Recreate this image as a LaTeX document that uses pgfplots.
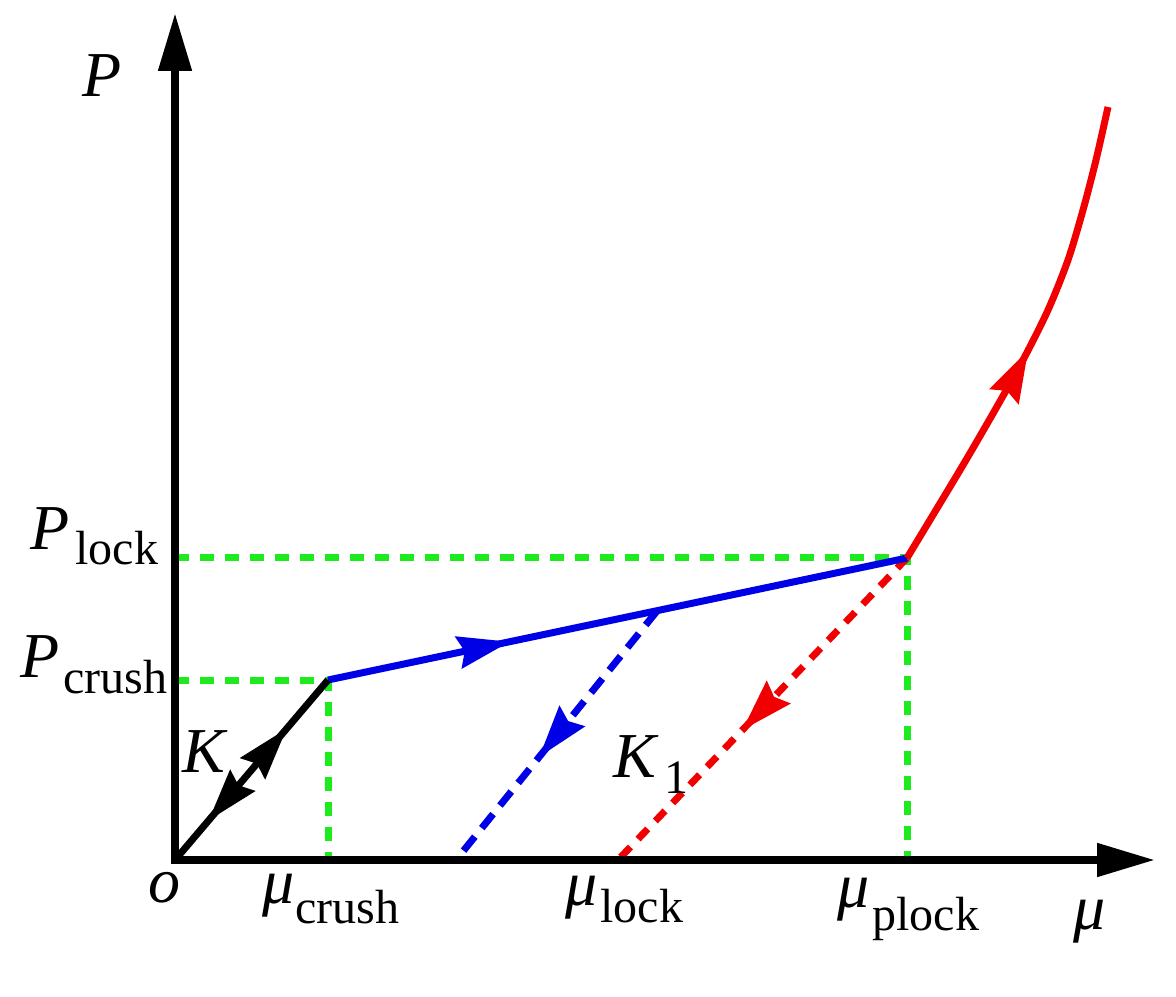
\documentclass[border=0pt]{standalone}
\usepackage{fontspec}
\setmainfont{Liberation Serif}
\usepackage{pgfplots}
\pgfplotsset{compat=1.18}
\usetikzlibrary{arrows.meta,decorations.markings}
\definecolor{cgreen}{RGB}{30,235,30}
\definecolor{cblue}{RGB}{0,0,230}
\definecolor{cred}{RGB}{240,0,0}
\tikzset{
  myarr/.tip={Stealth[length=26pt,width=16pt,inset=3pt]},
  midarrow/.style={postaction={decorate},decoration={markings,mark=at position #1 with {\arrow{myarr}}}}
}
\newcommand{\mainsz}[1]{\fontsize{32}{32}\selectfont #1}
\newcommand{\subsz}[1]{\fontsize{24}{24}\selectfont #1}
\begin{document}
\begin{tikzpicture}
\begin{axis}[scale only axis, width=588pt, height=498pt,
  xmin=-175, xmax=1001, ymin=-136, ymax=860, hide axis, clip=false]
% green guide lines
\addplot[cgreen, line width=3.5pt, dash pattern=on 7pt off 5.5pt] coordinates {(0,180)(153,180)(153,0)};
\addplot[cgreen, line width=3.5pt, dash pattern=on 7pt off 5.5pt] coordinates {(0,302)(732,302)(732,0)};
% unloading lines
\addplot[cblue, line width=3.5pt, dash pattern=on 9pt off 5.5pt, midarrow=0.586] coordinates {(482,249)(281,0)};
\addplot[cred, line width=3.5pt, dash pattern=on 7pt off 5.5pt, midarrow=0.57] coordinates {(732,302)(443,0)};
% loading path
\addplot[cblue, line width=3.5pt, midarrow=0.314] coordinates {(153,180)(732,302)};
\addplot[cred, line width=3.5pt, smooth, midarrow=0.484] coordinates {(732,302)(761,350)(791,400)(820,450)(848,500)(873,550)(893,600)(908,650)(921,700)(933,753)};
\addplot[black, line width=3.5pt, postaction={decorate},
  decoration={markings, mark=at position 0.73 with {\arrow{myarr}}, mark=at position 0.22 with {\arrowreversed{myarr}}}]
  coordinates {(0,0)(153,180)};
% axes
\addplot[black, line width=4pt, -{Triangle[length=29pt,width=16pt]}] coordinates {(-4,0)(980,0)};
\addplot[black, line width=4pt, -{Triangle[length=29pt,width=16pt]}] coordinates {(0,-4)(0,847)};
% labels
\node[anchor=base west, inner sep=0] at (axis cs:-93,763) {\mainsz{\textit{P}}};
\node[anchor=base west, inner sep=0] at (axis cs:-145,310) {\mainsz{\textit{P}}};
\node[anchor=base west, inner sep=0] at (axis cs:-100,295) {\subsz{lock}};
\node[anchor=base west, inner sep=0] at (axis cs:-155,183) {\mainsz{\textit{P}}};
\node[anchor=base west, inner sep=0] at (axis cs:-112,167) {\subsz{crush}};
\node[anchor=base west, inner sep=0] at (axis cs:7,88) {\mainsz{\textit{K}}};
\node[anchor=base west, inner sep=0] at (axis cs:438,83) {\mainsz{\textit{K}}};
\node[anchor=base west, inner sep=0] at (axis cs:489,67) {\subsz{1}};
\node[anchor=base west, inner sep=0] at (axis cs:-27,-42) {\mainsz{\textit{o}}};
\node[anchor=base west, inner sep=0] at (axis cs:87,-43) {\mainsz{\textit{μ}}};
\node[anchor=base west, inner sep=0] at (axis cs:120,-63) {\subsz{crush}};
\node[anchor=base west, inner sep=0] at (axis cs:390,-45) {\mainsz{\textit{μ}}};
\node[anchor=base west, inner sep=0] at (axis cs:425,-62) {\subsz{lock}};
\node[anchor=base west, inner sep=0] at (axis cs:662,-47) {\mainsz{\textit{μ}}};
\node[anchor=base west, inner sep=0] at (axis cs:697,-70) {\subsz{plock}};
\node[anchor=base west, inner sep=0] at (axis cs:898,-69) {\mainsz{\textit{μ}}};
\end{axis}
\path (current axis.south west) rectangle (current axis.north east);
\end{tikzpicture}
\end{document}
